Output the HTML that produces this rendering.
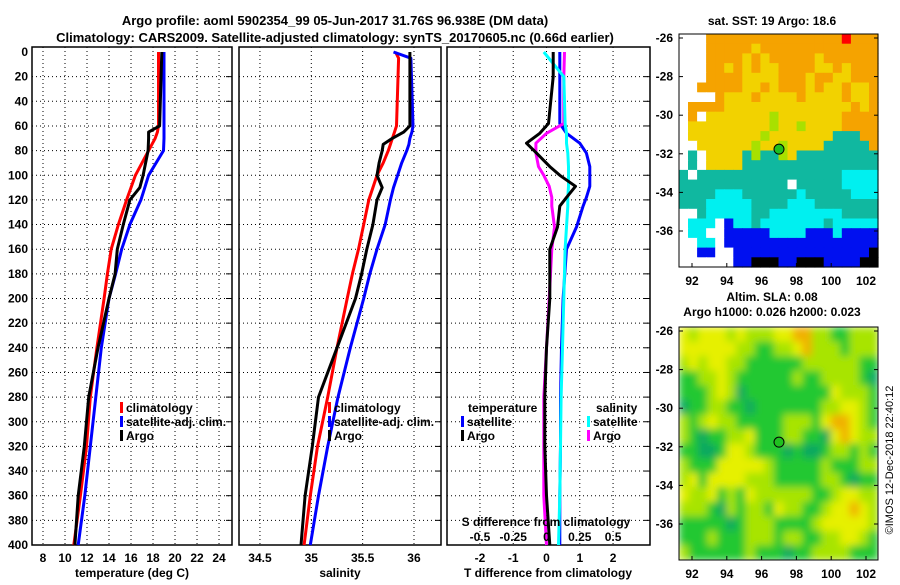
<!DOCTYPE html>
<html><head><meta charset="utf-8"><style>
body{margin:0;background:#fff;}
svg{font-family:"Liberation Sans",sans-serif;font-weight:bold;}
</style></head><body>
<svg id="c" width="900" height="580" xmlns="http://www.w3.org/2000/svg">
<defs>
<filter id="blur" x="0" y="0" width="1" height="1"><feGaussianBlur stdDeviation="4" edgeMode="duplicate"/></filter>
<clipPath id="slaclip"><rect x="679" y="327" width="199" height="233"/></clipPath>
</defs>
</svg>
<script>
// ---- data ----
const tDepth=[0,60,65,70,80,100,110,120,140,160,180,200,240,280,320,360,400];
const tClim=[18.5,18.5,18.4,18.2,17.6,16.4,16.0,15.6,14.85,14.2,13.85,13.55,12.9,12.3,11.95,11.4,10.8];
const tSat=[19.0,19.0,19.0,19.0,18.95,17.6,17.25,16.9,15.9,15.15,14.6,14.0,13.3,12.8,12.3,11.8,11.2];
const tArgo=[18.8,18.6,17.6,17.6,17.55,17.1,16.8,15.9,15.3,14.75,14.55,14.0,13.0,12.15,11.75,11.2,10.9];
const sDepth=[0,5,60,65,70,75,80,90,100,110,120,140,160,180,200,240,280,320,360,400];
const sClim=[35.82,35.85,35.83,35.81,35.79,35.77,35.75,35.7,35.64,35.6,35.56,35.51,35.46,35.4,35.35,35.25,35.16,35.06,34.99,34.93];
const sSat=[35.8,35.97,35.99,35.98,35.96,35.95,35.93,35.88,35.84,35.8,35.77,35.72,35.64,35.57,35.51,35.38,35.26,35.16,35.07,34.99];
const sArgo=[35.96,35.96,35.96,35.9,35.79,35.7,35.69,35.66,35.64,35.69,35.64,35.6,35.54,35.49,35.43,35.25,35.07,35.01,34.94,34.9];
const dDepth=[0,20,58,66,74,82,93,100,109,118,125,142,160,200,240,280,320,360,400];
const dTSat=[0.4,0.4,0.4,0.6,1.0,1.2,1.3,1.3,1.3,1.2,1.1,0.9,0.6,0.5,0.45,0.42,0.42,0.4,0.4];
const dTArgo=[0.2,0.2,0.06,-0.2,-0.6,-0.3,0.1,0.4,0.87,0.6,0.4,0.33,0.1,0.1,0.0,-0.05,-0.05,0.0,0.1];
const dSSat=[-0.02,0.13,0.14,0.15,0.15,0.16,0.165,0.165,0.165,0.16,0.16,0.15,0.14,0.13,0.12,0.11,0.105,0.1,0.09];
const dSArgo=[0.135,0.13,0.13,0.0,-0.08,-0.08,-0.06,-0.02,0.02,0.04,0.04,0.06,0.04,0.02,0.0,-0.02,-0.02,-0.02,0.0];
const tTicks=[8,10,12,14,16,18,20,22,24];
const sTicks=[34.5,35,35.5,36];
const dTicks=[-2,-1,0,1,2];
const dSTickLabels=["-0.5","-0.25","0","0.25","0.5"];
const depthTicks=[0,20,40,60,80,100,120,140,160,180,200,220,240,260,280,300,320,340,360,380,400];
const lonTicks=[92,94,96,98,100,102];
const latTicks=[-26,-28,-30,-32,-34,-36];
const argoLon=97.0, argoLat=-31.76;
const sstRows=[
"wwwooooooooooooooorooo",
"wwwoooooyooooooooooooo",
"wwwooooyoyoooooyoooooo",
"wwwooyoyoyyooooyyoyooo",
"wwwooooyyyyoooyooyyooo",
"wwoooooyyoyoooyoyyoyyo",
"wwwwoyyyoyyyyoyyyyoyyo",
"wooooyyyyyyyyyyyyyyoyo",
"wowyyyyyyygyyyyyyyoooo",
"wyyyyyyyyygyygyyyyoooo",
"wyyyyyyyygyyyyyyyGGGoo",
"wwyyyyyygyygyyyyGGGGGo",
"wGwyyyyGgGGgyGGGGGGGGG",
"wGwyyyyGGGGGGGGGGGGGGG",
"GwGGGGGGGGGGGGGGGGcccc",
"GGGGGGGGGGGGwGGGGGcccc",
"GGGGcccGGGGGGcGGGGGccc",
"GGGcccccGGGGcccGGGGGGG",
"wwGcccccGGccccccccGGGG",
"wcccwbccGcccccccGccccc",
"wccwwbbbbbccccbbbcbbbb",
"wwccwbbbbbbbbbbbbbbbbb",
"wwbbwwbbbbbbbbbbbbbbbk",
"wwwwwwbbkkkbbkkkbbbbkk"];
const slaRows=[
"ylyyylylllyyoollgglll",
"yyyyyyllggllyolllglll",
"lylyyllggggggllllllgg",
"ggllylgggggglggllllgd",
"ggglyldgggggggggylllg",
"dggllggdgggggggllyylg",
"lglyllggggglllgyooylg",
"lgdggllygggllggdyoyll",
"ggddgyylgggdgddgllglg",
"lgggyyyyylggggglgggll",
"lygyyyylllgggggllgdgg",
"yllyglgyllllllgglyyll",
"lllgdlgllgyllgglyyoyl",
"gggggdglllgggglyyyyyl",
"ggglggglllgllggllyylg",
"lgggggglgggdggllllggg"];
const sstCol={w:"#ffffff",o:"#f5a300",y:"#f2d200",g:"#a8e000",G:"#10b8a0",c:"#00f0f0",b:"#0010f0",k:"#000000",r:"#ff0000"};
const slaCol={y:"#e6f000",l:"#a8e400",g:"#20c830",d:"#10a860",o:"#f0b000"};
// ---- drawing ----
const NS="http://www.w3.org/2000/svg", svg=document.getElementById('c');
function el(t,a,txt,p){const e=document.createElementNS(NS,t);for(const k in a)e.setAttribute(k,a[k]);if(txt!=null)e.textContent=txt;(p||svg).appendChild(e);return e;}
const pTop=47,pBot=545,yD=d=>52+d*1.2325;
const panels=[{x0:32,x1:232,v0:7.0,v1:25.18},{x0:239,x1:441,v0:34.296,v1:36.263},{x0:447,x1:650,v0:-2.99,v1:3.11}];
function xs(p,v){return p.x0+(v-p.v0)/(p.v1-p.v0)*(p.x1-p.x0);}
const names=["temperature","salinity","difference"];
panels.forEach((p,i)=>{
 const g=el('g',{});
 
 
 el('rect',{x:p.x0,y:pTop,width:p.x1-p.x0,height:pBot-pTop,fill:'#fff',stroke:'#000','stroke-width':1.5},null,g);
 const ticks=i==0?tTicks:i==1?sTicks:dTicks;
 ticks.forEach(t=>{const x=xs(p,t);el('line',{x1:x,x2:x,y1:pTop,y2:pBot,stroke:'#000','stroke-dasharray':'1,3'},null,g);
  const lb=el('text',{x:x,y:562,'text-anchor':'middle','font-size':12},String(t),g);
  });
 depthTicks.forEach(d=>{if(d==0||d==400)return;const y=yD(d);el('line',{x1:p.x0,x2:p.x1,y1:y,y2:y,stroke:'#000','stroke-dasharray':'1,3'},null,g);
  el('line',{x1:p.x1-6,x2:p.x1,y1:y,y2:y,stroke:'#000'},null,g);});
});
depthTicks.forEach(d=>{const t=el('text',{x:28,y:yD(d)+4,'text-anchor':'end','font-size':12},String(d));
 });
function line(p,vals,deps,col,name,scale){const pts=vals.map((v,k)=>xs(p,v*(scale||1)).toFixed(1)+','+yD(deps[k]).toFixed(1)).join(' ');
 const l=el('polyline',{points:pts,fill:'none',stroke:col,'stroke-width':3,'stroke-linejoin':'round'});
 }
line(panels[0],tClim,tDepth,'#f00','temp-climatology-line');
line(panels[0],tSat,tDepth,'#00f','temp-satellite-line');
line(panels[0],tArgo,tDepth,'#000','temp-argo-line');
line(panels[1],sClim,sDepth,'#f00','sal-climatology-line');
line(panels[1],sSat,sDepth,'#00f','sal-satellite-line');
line(panels[1],sArgo,sDepth,'#000','sal-argo-line');
line(panels[2],dTSat,dDepth,'#00f','tdiff-satellite-line');
line(panels[2],dSArgo,dDepth,'#f0f','sdiff-argo-line',4);
line(panels[2],dSSat,dDepth,'#0ff','sdiff-satellite-line',4);
line(panels[2],dTArgo,dDepth,'#000','tdiff-argo-line');
function leg(x,y,col,txt,name){el('rect',{x:x,y:y-10,width:3,height:11,fill:col});const t=el('text',{x:x+6,y:y,'font-size':12},txt);
 }
[[120,'#f00','climatology'],[120,'#00f','satellite-adj. clim.'],[120,'#000','Argo']].forEach((a,k)=>leg(a[0],412+k*14,a[1],a[2],'temp-legend-entry'));
[[328,'#f00','climatology'],[328,'#00f','satellite-adj. clim.'],[328,'#000','Argo']].forEach((a,k)=>leg(a[0],412+k*14,a[1],a[2],'sal-legend-entry'));
el('text',{x:468,y:412,'font-size':12},'temperature');
leg(461,426,'#00f','satellite','tdiff-legend-entry');leg(461,440,'#000','Argo','tdiff-legend-entry');
el('text',{x:596,y:412,'font-size':12},'salinity');
leg(587,426,'#0ff','satellite','sdiff-legend-entry');leg(587,440,'#f0f','Argo','sdiff-legend-entry');
el('text',{x:546,y:526,'font-size':12,'text-anchor':'middle'},'S difference from climatology');
dSTickLabels.forEach((s,k)=>el('text',{x:xs(panels[2],dTicks[k]),y:541,'font-size':12,'text-anchor':'middle'},s));
[['temperature (deg C)',132],['salinity',340],['T difference from climatology',548]].forEach(a=>{const t=el('text',{x:a[1],y:577,'font-size':12,'text-anchor':'middle'},a[0]);});
const t1=el('text',{x:335,y:25,'font-size':13,'text-anchor':'middle'},'Argo profile: aoml 5902354_99 05-Jun-2017 31.76S 96.938E (DM data)');

const t2=el('text',{x:335,y:42,'font-size':13,'text-anchor':'middle'},'Climatology: CARS2009. Satellite-adjusted climatology: synTS_20170605.nc (0.66d earlier)');

function map(y0,y1,rows,cols,name,smooth){const x0=679,x1=878;const g=el('g',{});
 
 const cg=smooth?el('g',{'clip-path':'url(#slaclip)'},null,g):g;
 const cells=smooth?el('g',{filter:'url(#blur)'},null,cg):g;
 const nr=rows.length,nc=rows[0].length,cw=(x1-x0)/nc,ch=(y1-y0)/nr;
 rows.forEach((r,i)=>{for(let j=0;j<nc;j++)el('rect',{x:(x0+j*cw).toFixed(1),y:(y0+i*ch).toFixed(1),width:(cw+0.6).toFixed(1),height:(ch+0.6).toFixed(1),fill:cols[r[j]]||'#fff'},null,cells);});
 el('rect',{x:x0,y:y0,width:x1-x0,height:y1-y0,fill:'none',stroke:'#000'},null,g);
 const lx=v=>692+(v-92)*17.4, ly=v=>y0+4+(-26-v)*19.3;
 lonTicks.forEach(v=>{el('line',{x1:lx(v),x2:lx(v),y1:y1,y2:y1-4,stroke:'#000'},null,g);el('text',{x:lx(v),y:y1+18,'font-size':12,'text-anchor':'middle'},String(v),g);});
 latTicks.forEach(v=>{el('line',{x1:x0,x2:x0+4,y1:ly(v),y2:ly(v),stroke:'#000'},null,g);el('line',{x1:x1,x2:x1-4,y1:ly(v),y2:ly(v),stroke:'#000'},null,g);el('text',{x:x0-6,y:ly(v)+4,'font-size':12,'text-anchor':'end'},String(v),g);});
 const m=el('circle',{cx:lx(argoLon),cy:ly(argoLat),r:5,fill:'#20c020',stroke:'#000'},null,g);
 }
map(34,267,sstRows,sstCol,'sst-map',false);
map(327,560,slaRows,slaCol,'sla-map',true);
el('text',{x:772,y:25,'font-size':12,'text-anchor':'middle'},'sat. SST: 19 Argo: 18.6');
el('text',{x:772,y:301,'font-size':12,'text-anchor':'middle'},'Altim. SLA: 0.08');
el('text',{x:772,y:316,'font-size':12,'text-anchor':'middle'},'Argo h1000: 0.026 h2000: 0.023');
const cp=el('text',{x:893,y:460,'font-size':11,'font-weight':'normal','text-anchor':'middle',transform:'rotate(-90 893 460)'},'©IMOS 12-Dec-2018 22:40:12');

</script>
</body></html>
